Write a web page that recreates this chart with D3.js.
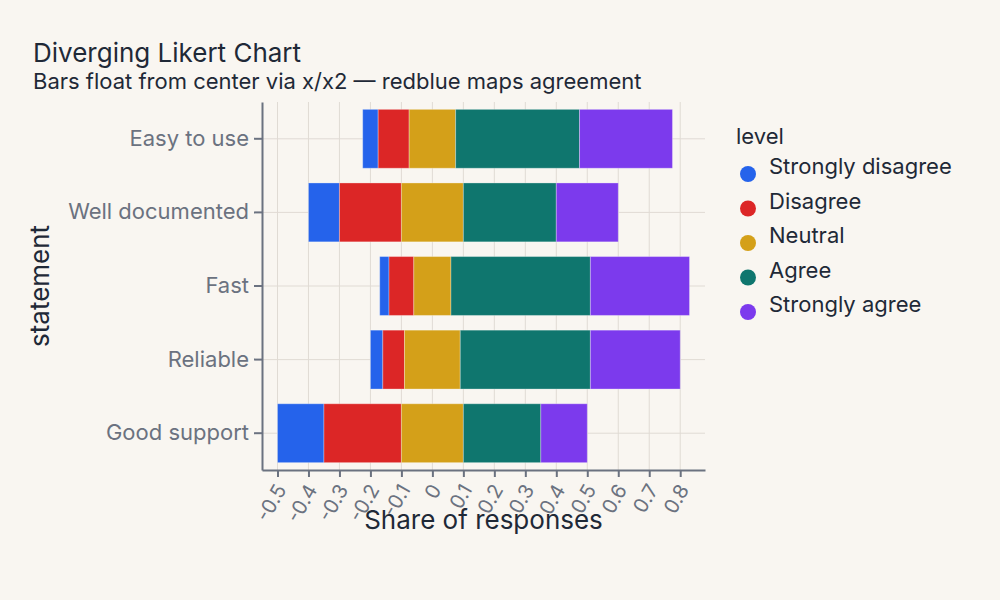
<!DOCTYPE html>
<html>
<head>
<meta charset="utf-8">
<script src="https://cdn.jsdelivr.net/npm/d3@7"></script>
<style>
  body { margin: 0; background: #f9f6f1; }
  svg { display: block; font-family: Inter, "Noto Sans", sans-serif; }
</style>
</head>
<body>
<div id="chart"></div>
<script>
    // data
    statements = ["Easy to use", "Well documented", "Fast", "Reliable", "Good support"]
    levels = ["Strongly disagree", "Disagree", "Neutral", "Agree", "Strongly agree"]
    strongly_disagree = [0.05, 0.10, 0.03, 0.04, 0.15]
    disagree          = [0.10, 0.20, 0.08, 0.07, 0.25]
    neutral           = [0.15, 0.20, 0.12, 0.18, 0.20]
    agree             = [0.40, 0.30, 0.45, 0.42, 0.25]
    strongly_agree    = [0.30, 0.20, 0.32, 0.29, 0.15]
    xTicks = [-0.5, -0.4, -0.3, -0.2, -0.1, 0, 0.1, 0.2, 0.3, 0.4, 0.5, 0.6, 0.7, 0.8]
    colors = ["#2563eb", "#dc2626", "#d4a019", "#0f766e", "#7c3aed"]

    canvas = ({width: 1000, height: 600})
    plot = ({left: 262, right: 705, top: 102, bottom: 470})

    // build floating segments: neutral centred on 0
    series = [strongly_disagree, disagree, neutral, agree, strongly_agree]
    segments = []
    statements.forEach((s, i) => {
        let x0 = -neutral[i] / 2 - disagree[i] - strongly_disagree[i]
        levels.forEach((lv, j) => {
            let v = series[j][i]
            segments.push({statement: s, level: lv, x: x0, x2: x0 + v})
            x0 += v
        })
    })

    x = d3.scaleLinear()
        .domain([-0.55, 0.88])
        .range([plot.left, plot.right])

    y = d3.scaleBand()
        .domain(statements)
        .range([plot.top, plot.bottom])
        .paddingInner(0.2)
        .paddingOuter(0.1)

    color = d3.scaleOrdinal().domain(levels).range(colors)

    var svg = d3.select("#chart").append("svg")
        .attr("width", canvas.width)
        .attr("height", canvas.height)

    svg.append("rect").attr("width", canvas.width).attr("height", canvas.height).attr("fill", "#f9f6f1")

    // title
    svg.append("text").attr("x", 33).attr("y", 62)
        .attr("font-size", 26).attr("fill", "#1f2937")
        .text("Diverging Likert Chart")
    svg.append("text").attr("x", 33).attr("y", 89)
        .attr("font-size", 22).attr("fill", "#1f2937")
        .text("Bars float from center via x/x2 \u2014 redblue maps agreement")

    // grid
    svg.append("g").selectAll("line").data(xTicks).join("line")
        .attr("x1", d => x(d)).attr("x2", d => x(d))
        .attr("y1", plot.top).attr("y2", plot.bottom)
        .attr("stroke", "#e0dbd4").attr("stroke-width", 1)
    svg.append("g").selectAll("line").data(statements).join("line")
        .attr("x1", plot.left).attr("x2", plot.right)
        .attr("y1", d => y(d) + y.bandwidth() / 2).attr("y2", d => y(d) + y.bandwidth() / 2)
        .attr("stroke", "#e0dbd4").attr("stroke-width", 1)

    // bars
    svg.append("g").selectAll("rect").data(segments).join("rect")
        .attr("x", d => x(d.x))
        .attr("width", d => x(d.x2) - x(d.x))
        .attr("y", d => y(d.statement))
        .attr("height", y.bandwidth())
        .attr("fill", d => color(d.level))
        .attr("stroke", "#ffffff").attr("stroke-opacity", 0.3).attr("stroke-width", 1)

    // axes
    xAxis = svg.append("g")
        .attr("transform", `translate(0,${plot.bottom})`)
        .call(d3.axisBottom(x).tickValues(xTicks).tickFormat(d => String(+d.toFixed(1))).tickSize(7).tickSizeOuter(0))
    xAxis.select(".domain").attr("stroke", "#6b7280").attr("stroke-width", 2)
    xAxis.selectAll(".tick line").attr("stroke", "#6b7280").attr("stroke-width", 2)
    xAxis.selectAll(".tick text")
        .attr("font-size", 20).attr("fill", "#6b7280")
        .attr("font-family", "Inter, sans-serif")
        .attr("text-anchor", "end")
        .attr("dy", "0.35em")
        .attr("transform", "translate(3,16) rotate(-60)")
        .attr("y", 0).attr("x", 0)

    yAxis = svg.append("g")
        .attr("transform", `translate(${plot.left},0)`)
        .call(d3.axisLeft(y).tickSize(8).tickSizeOuter(0).tickPadding(5))
    yAxis.select(".domain").attr("stroke", "#6b7280").attr("stroke-width", 2)
    yAxis.selectAll(".tick line").attr("stroke", "#6b7280").attr("stroke-width", 2)
    yAxis.selectAll(".tick text")
        .attr("font-size", 22).attr("fill", "#6b7280")
        .attr("font-family", "Inter, sans-serif")

    svg.append("text")
        .attr("x", (plot.left + plot.right) / 2).attr("y", 529)
        .attr("text-anchor", "middle")
        .attr("font-size", 26).attr("fill", "#1f2937")
        .text("Share of responses")

    svg.append("text")
        .attr("transform", `translate(49,${(plot.top + plot.bottom) / 2}) rotate(-90)`)
        .attr("text-anchor", "middle")
        .attr("font-size", 26).attr("fill", "#1f2937")
        .text("statement")

    // legend
    legend = svg.append("g").attr("transform", "translate(736,0)")
    legend.append("text").attr("x", 0).attr("y", 144)
        .attr("font-size", 22).attr("fill", "#1f2937").text("level")
    item = legend.selectAll("g.item").data(levels).join("g")
        .attr("class", "item")
        .attr("transform", (d, i) => `translate(0,${174 + i * 34.5})`)
    item.append("circle").attr("cx", 12).attr("cy", 0).attr("r", 8)
        .attr("fill", d => color(d))
    item.append("text").attr("x", 33).attr("y", 0)
        .attr("font-size", 22).attr("fill", "#1f2937")
        .text(d => d)
</script>
</body>
</html>
